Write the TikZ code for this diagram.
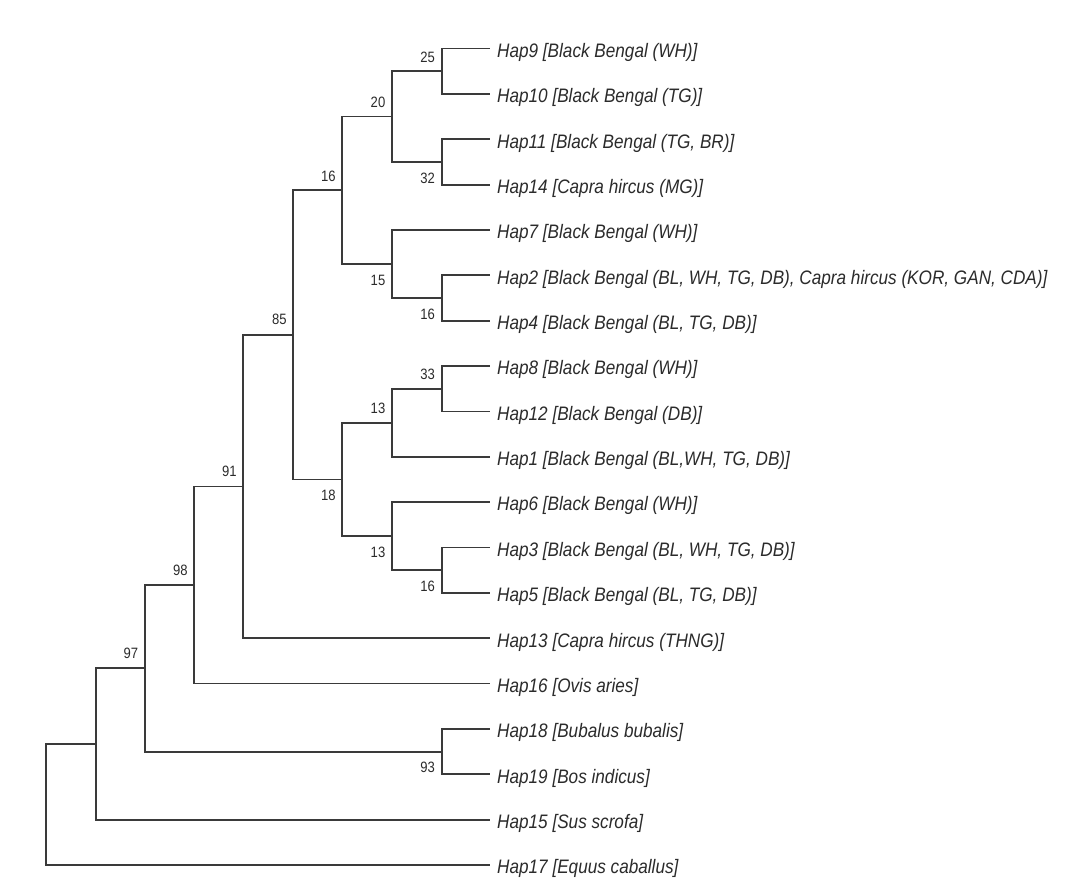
\documentclass[tikz,border=0pt]{standalone}
\usepackage{fontspec}
\newfontfamily\leaffont{Liberation Sans}[FakeStretch=0.88]
\newfontfamily\numfont{Liberation Sans}[FakeStretch=0.87]
\usetikzlibrary{calc}
\definecolor{ink}{HTML}{2B2B2B}
\definecolor{lineink}{HTML}{3A3A3A}
\begin{document}
\begin{tikzpicture}[x=1pt,y=-1pt,
  branch/.style={draw=lineink,line width=1.8pt,line cap=rect,line join=miter},
  leaf/.style={anchor=west,inner xsep=8pt,inner ysep=0pt,text height=19.6pt,text depth=2pt,
     text=ink,font=\leaffont\itshape\fontsize{19.5}{20}\selectfont},
  bs/.style={inner sep=0pt,text=ink,font=\numfont\fontsize{15}{16}\selectfont}]
\useasboundingbox[fill=white] (0,0) rectangle (1091,883);
% leaves
\node[leaf] (h9)  at (489,48.5)  {Hap9 [Black Bengal (WH)]};
\node[leaf] (h10) at (489,93.9)  {Hap10 [Black Bengal (TG)]};
\node[leaf] (h11) at (489,139.2) {Hap11 [Black Bengal (TG, BR)]};
\node[leaf] (h14) at (489,184.6) {Hap14 [Capra hircus (MG)]};
\node[leaf] (h7)  at (489,229.9) {Hap7 [Black Bengal (WH)]};
\node[leaf] (h2)  at (489,275.3) {Hap2 [Black Bengal (BL, WH, TG, DB), Capra hircus (KOR, GAN, CDA)]};
\node[leaf] (h4)  at (489,320.7) {Hap4 [Black Bengal (BL, TG, DB)]};
\node[leaf] (h8)  at (489,366.0) {Hap8 [Black Bengal (WH)]};
\node[leaf] (h12) at (489,411.4) {Hap12 [Black Bengal (DB)]};
\node[leaf] (h1)  at (489,456.7) {Hap1 [Black Bengal (BL,WH, TG, DB)]};
\node[leaf] (h6)  at (489,502.1) {Hap6 [Black Bengal (WH)]};
\node[leaf] (h3)  at (489,547.5) {Hap3 [Black Bengal (BL, WH, TG, DB)]};
\node[leaf] (h5)  at (489,592.8) {Hap5 [Black Bengal (BL, TG, DB)]};
\node[leaf] (h13) at (489,638.2) {Hap13 [Capra hircus (THNG)]};
\node[leaf] (h16) at (489,683.5) {Hap16 [Ovis aries]};
\node[leaf] (h18) at (489,728.9) {Hap18 [Bubalus bubalis]};
\node[leaf] (h19) at (489,774.3) {Hap19 [Bos indicus]};
\node[leaf] (h15) at (489,819.6) {Hap15 [Sus scrofa]};
\node[leaf] (h17) at (489,865.0) {Hap17 [Equus caballus]};
% internal nodes
\coordinate (A) at (441.7,71.2);
\coordinate (B) at (441.7,161.9);
\coordinate (C) at (392,116.55);
\coordinate (D) at (441.7,298);
\coordinate (E) at (392,263.95);
\coordinate (F) at (342.3,190.25);
\coordinate (G) at (441.7,388.7);
\coordinate (H) at (392,422.7);
\coordinate (I) at (441.7,570.15);
\coordinate (J) at (392,536.1);
\coordinate (K) at (342.3,479.4);
\coordinate (L) at (293.3,334.8);
\coordinate (M) at (243.3,486.5);
\coordinate (N) at (194.3,585);
\coordinate (P) at (441.7,751.6);
\coordinate (Q) at (145,668.3);
\coordinate (R) at (95.7,743.95);
\coordinate (root) at (46,804.5);
% branches
\draw[branch] (h9.west) -| (A) |- (h10.west);
\draw[branch] (h11.west) -| (B) |- (h14.west);
\draw[branch] (A) -| (C) |- (B);
\draw[branch] (h2.west) -| (D) |- (h4.west);
\draw[branch] (h7.west) -| (E) |- (D);
\draw[branch] (C) -| (F) |- (E);
\draw[branch] (h8.west) -| (G) |- (h12.west);
\draw[branch] (G) -| (H) |- (h1.west);
\draw[branch] (h3.west) -| (I) |- (h5.west);
\draw[branch] (h6.west) -| (J) |- (I);
\draw[branch] (H) -| (K) |- (J);
\draw[branch] (F) -| (L) |- (K);
\draw[branch] (L) -| (M) |- (h13.west);
\draw[branch] (M) -| (N) |- (h16.west);
\draw[branch] (h18.west) -| (P) |- (h19.west);
\draw[branch] (N) -| (Q) |- (P);
\draw[branch] (Q) -| (R) |- (h15.west);
\draw[branch] (R) -| (root) |- (h17.west);
% bootstrap values
\node[bs] (bA) at ($(A)+(-14,-14)$) {25};
\node[bs] (bB) at ($(B)+(-14,16)$) {32};
\node[bs] (bC) at ($(C)+(-14,-14)$) {20};
\node[bs] (bD) at ($(D)+(-14,16)$) {16};
\node[bs] (bE) at ($(E)+(-14,16)$) {15};
\node[bs] (bF) at ($(F)+(-14,-14)$) {16};
\node[bs] (bG) at ($(G)+(-14,-14)$) {33};
\node[bs] (bH) at ($(H)+(-14,-14)$) {13};
\node[bs] (bI) at ($(I)+(-14,16)$) {16};
\node[bs] (bJ) at ($(J)+(-14,16)$) {13};
\node[bs] (bK) at ($(K)+(-14,16)$) {18};
\node[bs] (bL) at ($(L)+(-14,-15)$) {85};
\node[bs] (bM) at ($(M)+(-14,-15)$) {91};
\node[bs] (bN) at ($(N)+(-14,-15)$) {98};
\node[bs] (bP) at ($(P)+(-14,16)$) {93};
\node[bs] (bQ) at ($(Q)+(-14,-15)$) {97};
\end{tikzpicture}
\end{document}
